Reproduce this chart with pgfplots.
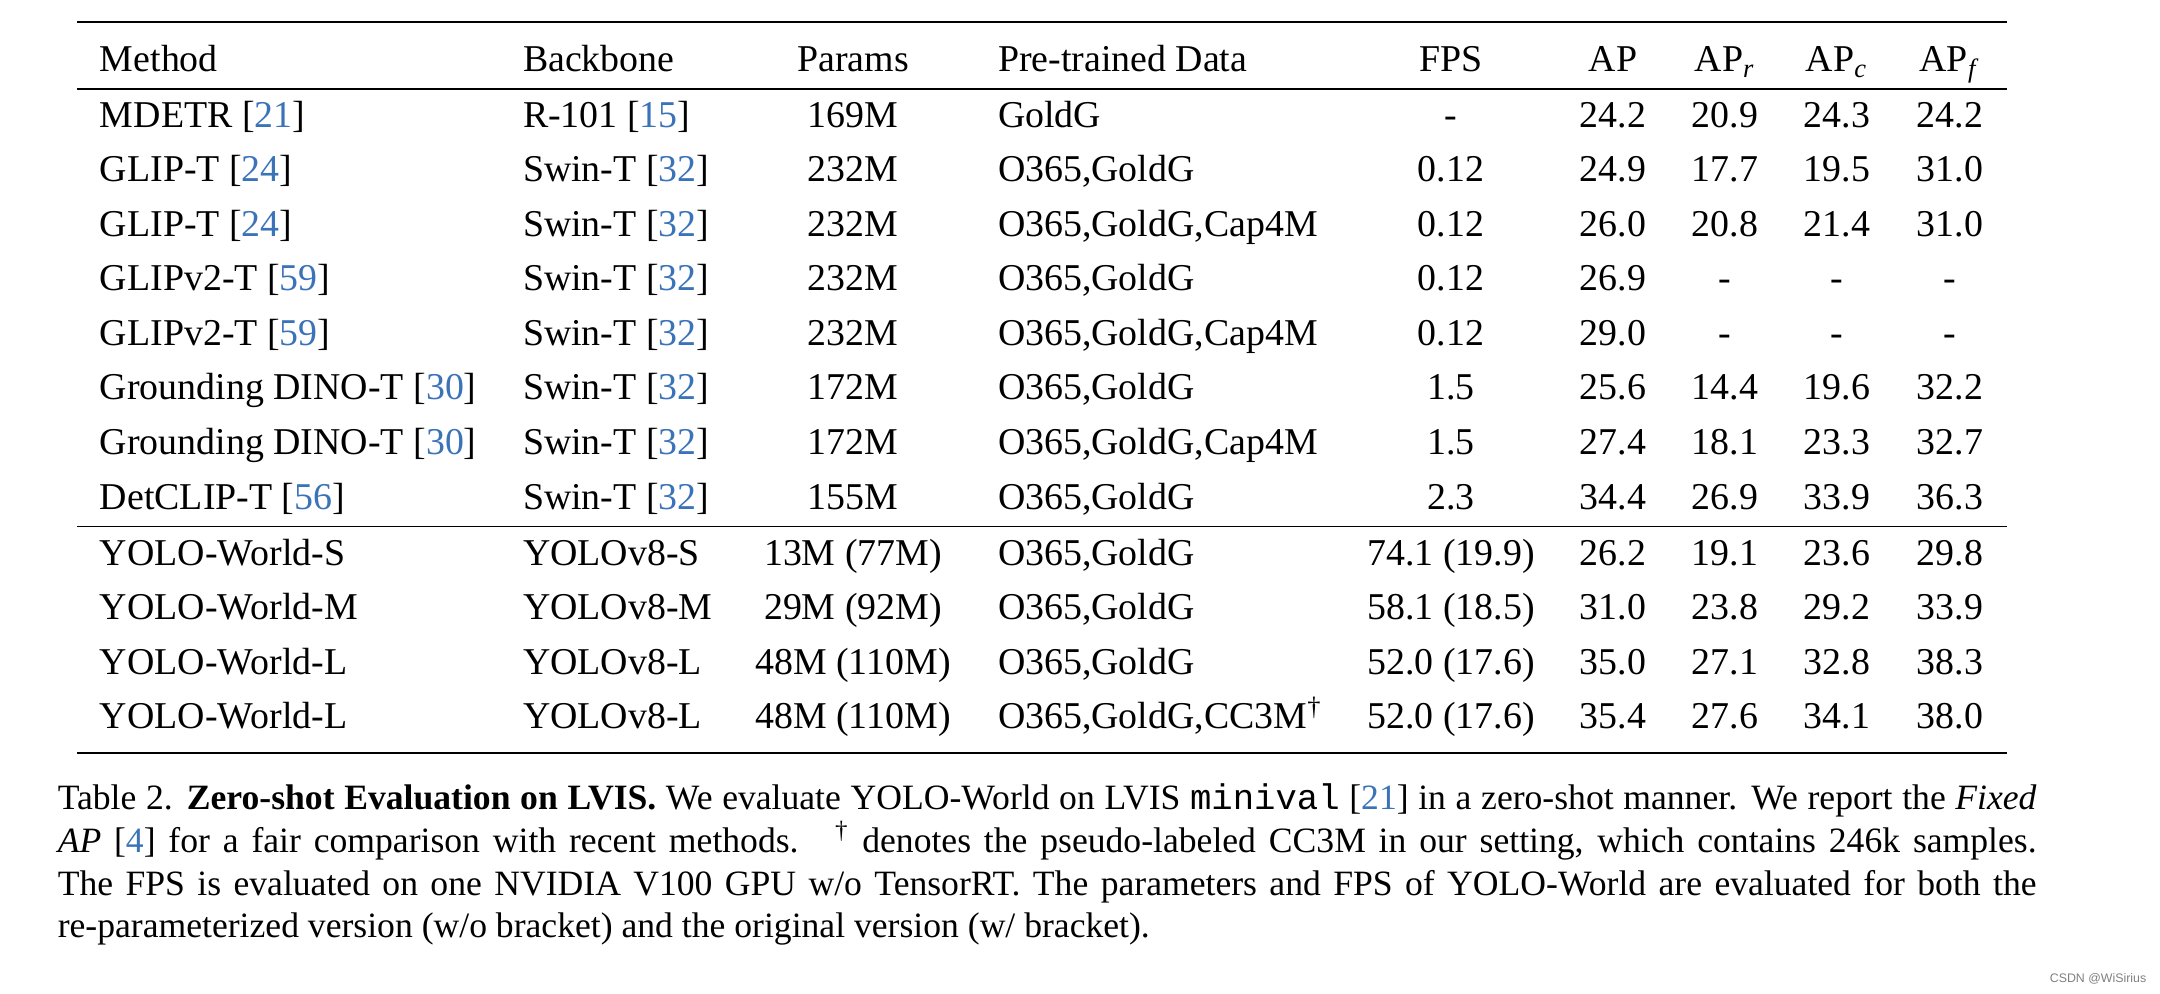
\documentclass[border=0pt]{standalone}
\usepackage{fontspec}
\setmainfont{Liberation Serif}
\setmonofont{Liberation Mono}
\newfontfamily\wmfont{Liberation Sans}
\usepackage{xcolor}
\usepackage{pgfplots}
\usepackage{pgfplotstable}
\pgfplotsset{compat=1.18}
\definecolor{citeblue}{RGB}{59,115,185}
\newcommand{\cit}[1]{\textcolor{citeblue}{#1}}

\pgfplotstableread[col sep=semicolon]{
y;method;backbone;params;data;fps;ap;apr;apc;apf
71.7;Method;Backbone;Params;Pre-trained Data;FPS;AP;AP\textsubscript{\textit{r}};AP\textsubscript{\textit{c}};AP\textsubscript{\textit{f}}
127.5;MDETR [\cit{21}];R-101 [\cit{15}];169M;GoldG;-;24.2;20.9;24.3;24.2
182;GLIP-T [\cit{24}];Swin-T [\cit{32}];232M;O365,GoldG;0.12;24.9;17.7;19.5;31.0
236.5;GLIP-T [\cit{24}];Swin-T [\cit{32}];232M;O365,GoldG,Cap4M;0.12;26.0;20.8;21.4;31.0
291;GLIPv2-T [\cit{59}];Swin-T [\cit{32}];232M;O365,GoldG;0.12;26.9;-;-;-
345.5;GLIPv2-T [\cit{59}];Swin-T [\cit{32}];232M;O365,GoldG,Cap4M;0.12;29.0;-;-;-
400;Grounding DINO-T [\cit{30}];Swin-T [\cit{32}];172M;O365,GoldG;1.5;25.6;14.4;19.6;32.2
454.5;Grounding DINO-T [\cit{30}];Swin-T [\cit{32}];172M;O365,GoldG,Cap4M;1.5;27.4;18.1;23.3;32.7
510;DetCLIP-T [\cit{56}];Swin-T [\cit{32}];155M;O365,GoldG;2.3;34.4;26.9;33.9;36.3
566;YOLO-World-S;YOLOv8-S;13M (77M);O365,GoldG;74.1 (19.9);26.2;19.1;23.6;29.8
620;YOLO-World-M;YOLOv8-M;29M (92M);O365,GoldG;58.1 (18.5);31.0;23.8;29.2;33.9
674.5;YOLO-World-L;YOLOv8-L;48M (110M);O365,GoldG;52.0 (17.6);35.0;27.1;32.8;38.3
729;YOLO-World-L;YOLOv8-L;48M (110M);O365,GoldG,CC3M\textsuperscript{†};52.0 (17.6);35.4;27.6;34.1;38.0
}\tab

\pgfplotsset{
  txt/.style={draw=none, mark=none, point meta=explicit symbolic, nodes near coords,
    nodes near coords style={anchor=#1, inner sep=0pt, outer sep=0pt, text=black, font=\fontsize{10.1}{12}\selectfont}},
}

\begin{document}
\begin{tikzpicture}
\begin{axis}[
  width=576pt, height=265.0667pt, scale only axis,
  xmin=0, xmax=2160, ymin=0, ymax=994, y dir=reverse,
  hide axis, clip=false,
]
\path (rel axis cs:0,0) rectangle (rel axis cs:1,1);
% rules
\addplot[black, line width=0.75pt] coordinates {(77,22) (2007,22)};
\addplot[black, line width=0.45pt] coordinates {(77,89) (2007,89)};
\addplot[black, line width=0.45pt] coordinates {(77,526.5) (2007,526.5)};
\addplot[black, line width=0.75pt] coordinates {(77,753) (2007,753)};
% columns
\addplot[txt=base west] table[x expr=100, y=y, meta=method] \tab;
\addplot[txt=base west] table[x expr=523, y=y, meta=backbone] \tab;
\addplot[txt=base] table[x expr=853, y=y, meta=params] \tab;
\addplot[txt=base west] table[x expr=998, y=y, meta=data] \tab;
\addplot[txt=base] table[x expr=1451, y=y, meta=fps] \tab;
\addplot[txt=base] table[x expr=1613, y=y, meta=ap] \tab;
\addplot[txt=base] table[x expr=1725, y=y, meta=apr] \tab;
\addplot[txt=base] table[x expr=1837, y=y, meta=apc] \tab;
\addplot[txt=base] table[x expr=1950, y=y, meta=apf] \tab;
% caption
\begin{scope}[every node/.style={anchor=base west, inner sep=0pt, font=\fontsize{9.5}{11}\selectfont}]
\node at (axis cs:57,810) {\makebox[527.7pt][s]{Table 2. \textbf{Zero-shot Evaluation on LVIS.} We evaluate YOLO-World on LVIS \texttt{minival} [\cit{21}] in a zero-shot manner. We report the \textit{Fixed}}};
\node at (axis cs:57,853) {\makebox[527.7pt][s]{\textit{AP} [\cit{4}] for a fair comparison with recent methods. \ \textsuperscript{†} denotes the pseudo-labeled CC3M in our setting, which contains 246k samples.}};
\node at (axis cs:57,896) {\makebox[527.7pt][s]{The FPS is evaluated on one NVIDIA V100 GPU w/o TensorRT. The parameters and FPS of YOLO-World are evaluated for both the}};
\node at (axis cs:57,938) {re-parameterized version (w/o bracket) and the original version (w/ bracket).};
\end{scope}
\node[anchor=east, inner sep=0pt, text=gray, font=\wmfont\fontsize{3.3}{4}\selectfont] at (axis cs:2147,979) {CSDN @WiSirius};
\end{axis}
\end{tikzpicture}
\end{document}
